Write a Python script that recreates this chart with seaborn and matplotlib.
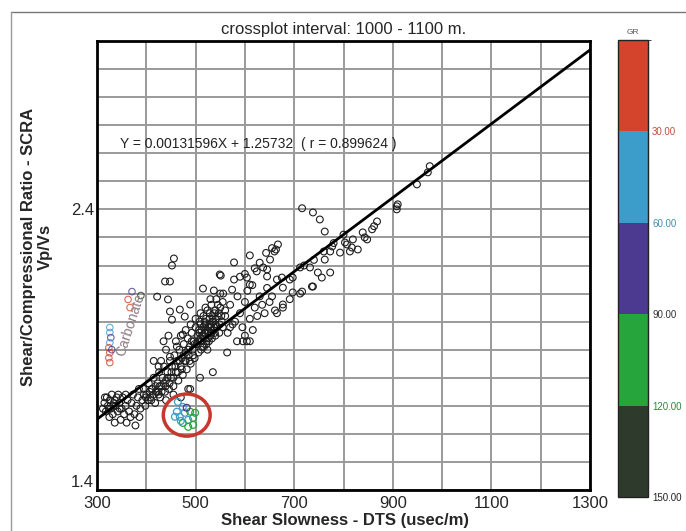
import matplotlib.pyplot as plt
import matplotlib as mpl
import numpy as np
import pandas as pd
import seaborn as sns
from matplotlib.colors import ListedColormap, BoundaryNorm
from matplotlib.patches import Ellipse
from matplotlib.lines import Line2D

# ---- data (DTS usec/m, Vp/Vs) ----
left_cluster = [
    (315, 1.71), (318, 1.68), (320, 1.73), (322, 1.70), (325, 1.66), (326, 1.72),
    (328, 1.69), (330, 1.74), (332, 1.67), (334, 1.71), (336, 1.64), (338, 1.70),
    (340, 1.73), (342, 1.68), (345, 1.71), (348, 1.65), (350, 1.69), (352, 1.73),
    (355, 1.67), (358, 1.70), (360, 1.64), (362, 1.72), (365, 1.68), (368, 1.66),
    (370, 1.71), (373, 1.74), (376, 1.67), (378, 1.63), (380, 1.70), (383, 1.73),
    (386, 1.66), (388, 1.69), (392, 1.72), (395, 1.76), (398, 1.70), (400, 1.74),
    (385, 1.76), (395, 1.74), (410, 1.72), (425, 1.74), (440, 1.72), (455, 1.74),
    (470, 1.73), (485, 1.76), (358, 1.74), (346, 1.69), (336, 1.72), (324, 1.69),
    (316, 1.73), (312, 1.69), (333, 1.70), (343, 1.74),
]

band = [
    (405, 1.78), (408, 1.73), (412, 1.76), (415, 1.80), (418, 1.71), (420, 1.75),
    (423, 1.78), (426, 1.82), (428, 1.73), (430, 1.77), (433, 1.80), (436, 1.84),
    (438, 1.75), (440, 1.79), (443, 1.82), (446, 1.76), (448, 1.86), (450, 1.80),
    (452, 1.84), (455, 1.77), (457, 1.88), (460, 1.82), (462, 1.86), (465, 1.79),
    (467, 1.90), (470, 1.84), (472, 1.87), (474, 1.81), (476, 1.92), (478, 1.86),
    (480, 1.89), (482, 1.83), (484, 1.94), (486, 1.88), (488, 1.91), (490, 1.85),
    (492, 1.96), (494, 1.90), (496, 1.93), (498, 1.87), (500, 1.98), (502, 1.92),
    (504, 1.95), (506, 1.89), (508, 2.00), (510, 1.94), (512, 1.97), (514, 1.91),
    (516, 2.02), (518, 1.96), (520, 1.99), (522, 1.93), (524, 2.04), (526, 1.98),
    (528, 2.01), (530, 1.95), (532, 2.06), (534, 2.00), (536, 1.97), (538, 2.03),
    (540, 1.99), (542, 2.08), (545, 2.02), (548, 1.96), (550, 2.05), (553, 2.00),
    (556, 2.10), (560, 2.04), (515, 1.95), (520, 1.97), (525, 1.94), (528, 1.99),
    (532, 1.96), (535, 2.02), (518, 2.00), (522, 1.92), (512, 1.93), (530, 1.98),
    (526, 1.96), (538, 1.98), (508, 1.96), (540, 1.95),
]

core_dense = [
    (505, 1.93), (507, 1.97), (510, 1.99), (513, 1.95), (516, 1.98), (519, 1.94),
    (521, 2.01), (523, 1.97), (527, 1.93), (529, 2.03), (531, 1.99), (533, 1.94),
    (536, 2.00), (539, 1.96), (541, 2.01), (544, 1.98), (547, 2.03), (549, 1.99),
    (552, 2.02), (555, 1.98), (511, 1.90), (517, 1.91), (524, 1.90), (498, 1.92),
    (495, 1.88), (492, 1.93), (488, 1.86), (485, 1.90), (480, 1.86), (476, 1.88),
    (472, 1.83), (468, 1.86), (464, 1.82), (459, 1.84), (455, 1.80), (451, 1.82),
    (447, 1.78), (443, 1.80), (439, 1.77), (435, 1.78), (431, 1.75), (427, 1.77),
    (423, 1.75), (419, 1.77), (415, 1.74), (411, 1.76), (407, 1.75), (403, 1.72),
    (399, 1.73), (430, 1.86), (440, 1.90), (425, 1.84), (415, 1.86), (445, 1.95),
    (435, 1.93),
]

core_right = [
    (560, 2.02), (570, 2.06), (580, 2.00), (590, 2.03), (600, 2.07), (610, 2.01),
    (620, 2.05), (630, 2.09), (640, 2.03), (650, 2.07), (565, 1.96), (575, 1.99),
    (585, 2.09), (595, 1.98), (605, 2.11), (615, 2.13), (625, 2.02), (635, 2.06),
    (645, 2.12), (655, 2.09), (545, 2.06), (550, 2.10), (555, 2.07), (540, 2.04),
    (530, 2.08), (520, 2.05), (510, 2.03), (500, 2.01), (490, 1.99), (480, 1.97),
    (470, 1.95), (460, 1.93), (661, 2.04), (677, 2.05), (691, 2.08), (712, 2.10),
    (665, 2.03), (616, 1.97), (600, 1.95), (596, 1.93), (610, 1.93), (570, 1.98),
    (584, 1.93), (604, 1.93), (564, 1.89), (535, 1.82), (509, 1.80), (489, 1.76),
]

upper_scatter = [
    (456, 2.225), (452, 2.20), (438, 2.143), (448, 2.143), (422, 2.089), (444, 2.079),
    (551, 2.164), (578, 2.211), (578, 2.15), (610, 2.236), (663, 2.257), (667, 2.275),
    (651, 2.221), (637, 2.193), (515, 2.118), (537, 2.111), (574, 2.114), (604, 2.157),
    (610, 2.132), (624, 2.179), (645, 2.161), (665, 2.15), (677, 2.121), (677, 2.061),
    (448, 2.036), (452, 2.007), (478, 2.018), (489, 2.061), (474, 1.954), (448, 1.875),
    (462, 1.911), (468, 2.043), (549, 2.168), (645, 2.186), (697, 2.104), (738, 2.125),
    (773, 2.175), (643, 2.245), (655, 2.262), (660, 2.25), (630, 2.21), (620, 2.19),
    (600, 2.17), (590, 2.16), (691, 2.15), (712, 2.193), (732, 2.193), (748, 2.175),
    (756, 2.157), (736, 2.125), (716, 2.107), (697, 2.157), (675, 2.157),
]

upper_right = [
    (716, 2.404), (738, 2.389), (752, 2.364), (762, 2.321), (868, 2.357), (858, 2.329),
    (839, 2.318), (819, 2.293), (817, 2.264), (848, 2.293), (862, 2.34), (793, 2.246),
    (777, 2.268), (803, 2.282), (813, 2.25), (829, 2.257), (843, 2.30), (807, 2.275),
    (773, 2.25), (762, 2.221), (949, 2.489), (971, 2.532), (975, 2.554), (908, 2.40),
    (910, 2.418), (908, 2.411), (760, 2.25), (780, 2.28), (800, 2.31), (720, 2.20),
    (740, 2.22),
]

circled = [
    (464, 1.714), (474, 1.696), (462, 1.679), (468, 1.661), (478, 1.675), (489, 1.679),
    (499, 1.675), (495, 1.657), (485, 1.650), (474, 1.639), (485, 1.625), (495, 1.632),
    (458, 1.661), (470, 1.646), (482, 1.693),
]
circled_gr = [55, 50, 55, 45, 55, 100, 110, 100, 55, 100, 105, 110, 45, 55, 60]

carbonate = [
    (326, 1.979), (326, 1.961), (328, 1.943), (326, 1.925), (324, 1.907), (326, 1.889),
    (324, 1.871), (326, 1.854), (330, 1.900), (371, 2.107), (363, 2.079), (367, 2.050),
    (389, 2.093),
]
carbonate_gr = [45, 45, 70, 45, 20, 20, 20, 20, 70, 70, 20, 20, 130]

# regression shown on the plot
slope = 0.00131596
intercept = 1.25732

gr_bounds = [0, 30, 60, 90, 120, 150]
gr_colors = ['#d4442d', '#3d9dca', '#4b3a8f', '#25a53b', '#2e3a2b']
gr_label_colors = ['#c0503a', '#3f8fb0', '#333333', '#2a8a3a', '#222222']

sns.set_style('white')
plt.rcParams['font.family'] = ['Liberation Sans', 'DejaVu Sans']

fig = plt.figure(figsize=(6.86, 5.31), dpi=100)
ax = fig.add_axes([97 / 686, 1 - 490 / 531, 493 / 686, 449 / 531])

cmap = ListedColormap(gr_colors)
norm = BoundaryNorm(gr_bounds, cmap.N)

main = pd.DataFrame(left_cluster + band + core_dense + core_right + upper_scatter + upper_right,
                    columns=['dts', 'vpvs'])
sns.scatterplot(data=main, x='dts', y='vpvs', ax=ax, marker='o', s=24,
                facecolor='none', edgecolor='#1e1e1e', linewidth=0.8, zorder=3)

circ = pd.DataFrame(circled, columns=['dts', 'vpvs'])
sns.scatterplot(data=circ, x='dts', y='vpvs', ax=ax, marker='o', s=24,
                facecolor='none', edgecolor=[cmap(norm(g)) for g in circled_gr],
                linewidth=0.9, zorder=3)

carb = pd.DataFrame(carbonate, columns=['dts', 'vpvs'])
sns.scatterplot(data=carb, x='dts', y='vpvs', ax=ax, marker='o', s=22,
                facecolor='none', edgecolor=[cmap(norm(g)) for g in carbonate_gr],
                linewidth=0.8, alpha=0.8, zorder=3)

xs = np.array([300, 1300])
sns.lineplot(x=xs, y=slope * xs + intercept, ax=ax, color='black', linewidth=2, zorder=4)

ax.add_patch(Ellipse((482, 1.667), 95, 0.15, fill=False, edgecolor='#c8372d',
                     linewidth=2.5, zorder=5))

ax.text(347, 2.632, 'Y = 0.00131596X + 1.25732  ( r = 0.899624 )', fontsize=10,
        ha='left', va='center', color='#222222', zorder=6)
ax.text(368, 1.99, 'Carbonate', fontsize=10, rotation=72, ha='center', va='center',
        color='#8c7a80', zorder=6)

ax.set_xlim(300, 1300)
ax.set_ylim(1.4, 3.0)
ax.set_xticks(np.arange(300, 1301, 100))
ax.set_xticklabels([str(v) if (v - 300) % 200 == 0 else '' for v in range(300, 1301, 100)])
ax.set_yticks([1.4, 2.4])
ax.set_yticklabels(['1.4', '2.4'])
ax.set_yticks(np.arange(1.4, 3.001, 0.1), minor=True)
ax.tick_params(axis='both', which='major', direction='in', length=11, width=2.2,
               labelsize=12, pad=2, color='black')
ax.tick_params(axis='x', which='major', pad=4)
ax.tick_params(axis='y', which='minor', length=0)
# lift the 1.4 label so it clears the 300 label underneath
ax.get_yticklabels()[0].set_verticalalignment('bottom')
ax.grid(True, which='both', color='#9a9a9a', linewidth=1.4, zorder=0)
ax.set_axisbelow(True)
for sp in ax.spines.values():
    sp.set_color('black')
    sp.set_linewidth(2)
ax.set_xlabel('')
ax.set_ylabel('')
ax.set_title('crossplot interval: 1000 - 1100 m.', fontsize=12, pad=5)

fig.text(345 / 686, 1 - 521 / 531, 'Shear Slowness - DTS (usec/m)', fontsize=12,
         fontweight='bold', ha='center', va='center')
fig.text(37 / 686, 1 - 247 / 531, 'Shear/Compressional Ratio - SCRA\nVp/Vs', fontsize=12,
         fontweight='bold', ha='center', va='center', rotation=90, linespacing=1.1)

# colour bar for GR
cax = fig.add_axes([618 / 686, 1 - 497 / 531, 30 / 686, 457 / 531])
cb = fig.colorbar(mpl.cm.ScalarMappable(norm=norm, cmap=cmap), cax=cax,
                  ticks=[30, 60, 90, 120, 150])
cax.invert_yaxis()
cb.outline.set_edgecolor('#222222')
cb.outline.set_linewidth(1)
cax.set_yticklabels(['30.00', '60.00', '90.00', '120.00', '150.00'])
cax.tick_params(length=0, labelsize=7, pad=3)
for lab, c in zip(cax.get_yticklabels(), gr_label_colors):
    lab.set_color(c)
cax.set_title('GR', fontsize=6, color='#555555', pad=4)

# scan frame
fig.add_artist(Line2D([11 / 686, 1.0], [1 - 12 / 531, 1 - 12 / 531], color='#777777', linewidth=1))
fig.add_artist(Line2D([11 / 686, 11 / 686], [0.0, 1 - 12 / 531], color='#999999', linewidth=1))

plt.savefig('out.png', dpi=100)
plt.close()
